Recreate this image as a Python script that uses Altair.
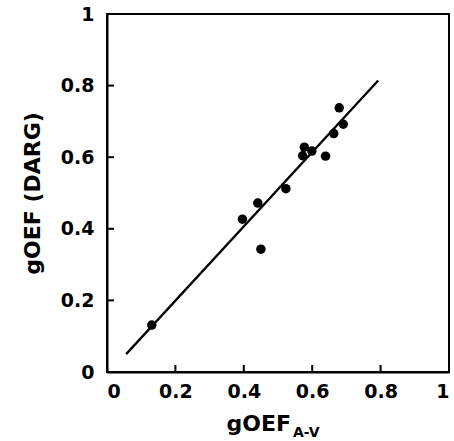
import altair as alt
import pandas as pd

# Measured global oxygen extraction fraction: arterio-venous vs. DARG method
goef_av = [0.131, 0.396, 0.441, 0.450, 0.523, 0.577, 0.572, 0.599, 0.639, 0.663, 0.679, 0.691]
goef_darg = [0.131, 0.427, 0.472, 0.343, 0.512, 0.628, 0.604, 0.617, 0.603, 0.666, 0.738, 0.692]

# Regression line end points
fit_x = [0.056, 0.793]
fit_y = [0.050, 0.814]

tick_values = [0, 0.2, 0.4, 0.6, 0.8, 1]
y_title = "gOEF (DARG)"
x_title_main = "gOEF"
x_title_sub = "A-V"

W, H = 342, 358
FONT = "DejaVu Sans"

points = pd.DataFrame({"x": goef_av, "y": goef_darg})
fit = pd.DataFrame({"x": fit_x, "y": fit_y})
ticks = pd.DataFrame({"v": tick_values})

x_scale = alt.Scale(domain=[0, 1], nice=False, zero=False)
y_scale = alt.Scale(domain=[0, 1], nice=False, zero=False)

axis_common = dict(
    values=tick_values,
    format=".1~f",
    grid=False,
    ticks=False,
    domainColor="black",
    domainWidth=2,
    labelFont=FONT,
    labelFontWeight="bold",
    labelFontSize=19,
    labelColor="black",
)

x_axis = alt.Axis(title=None, labelPadding=10, **axis_common)
y_axis = alt.Axis(
    title=y_title,
    labelPadding=13,
    titleFont=FONT,
    titleFontWeight="bold",
    titleFontSize=22,
    titleColor="black",
    titlePadding=16,
    **axis_common,
)

scatter = alt.Chart(points).mark_circle(size=90, color="black", opacity=1).encode(
    x=alt.X("x:Q", scale=x_scale, axis=x_axis),
    y=alt.Y("y:Q", scale=y_scale, axis=y_axis),
)

line = alt.Chart(fit).mark_line(color="black", strokeWidth=2.3).encode(
    x=alt.X("x:Q", scale=x_scale),
    y=alt.Y("y:Q", scale=y_scale),
)

# Inward-pointing tick marks on both axes
x_ticks = alt.Chart(ticks).mark_rule(color="black", strokeWidth=2).encode(
    x=alt.X("v:Q", scale=x_scale),
    y=alt.value(H),
    y2=alt.value(H - 7),
)
y_ticks = alt.Chart(ticks).mark_rule(color="black", strokeWidth=2).encode(
    y=alt.Y("v:Q", scale=y_scale),
    x=alt.value(0),
    x2=alt.value(7),
)

one_row = pd.DataFrame({"t": [0]})
title_main = alt.Chart(one_row).mark_text(
    font=FONT, fontWeight="bold", fontSize=22, color="black", align="right", baseline="alphabetic"
).encode(x=alt.value(184), y=alt.value(417), text=alt.value(x_title_main))
title_sub = alt.Chart(one_row).mark_text(
    font=FONT, fontWeight="bold", fontSize=14, color="black", align="left", baseline="alphabetic"
).encode(x=alt.value(186), y=alt.value(423), text=alt.value(x_title_sub))

chart = (
    alt.layer(line, scatter, x_ticks, y_ticks, title_main, title_sub)
    .properties(
        width=W,
        height=H,
        autosize=alt.AutoSizeParams(type="none"),
        padding={"left": 107, "top": 14, "right": 5, "bottom": 69},
        background="white",
    )
    .configure_view(stroke="black", strokeWidth=2)
)

chart.save("out.html", embed_options={"renderer": "svg", "actions": False})
